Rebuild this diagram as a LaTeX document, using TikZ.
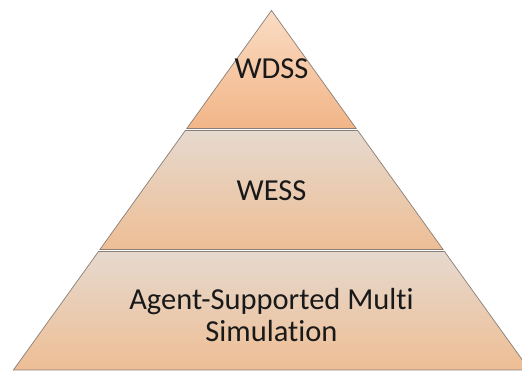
\documentclass[tikz,border=0pt]{standalone}
\usepackage{fontspec}
\setmainfont{Carlito}[Ligatures=NoCommon]
\usepackage{tikz}

\definecolor{peachdark}{HTML}{F2B587}
\definecolor{peachlight}{HTML}{FADCC4}
\definecolor{sandtop}{HTML}{E6D9CE}
\definecolor{sandbot}{HTML}{EEBE95}
\definecolor{edgegray}{HTML}{8A7E76}

\begin{document}
\begin{tikzpicture}[
    x=1pt, y=1pt,
    layer/.style={draw=edgegray, line width=0.7pt, line join=miter},
    top layer/.style={layer, top color=peachlight, bottom color=peachdark},
    lower layer/.style={layer, top color=sandtop, bottom color=sandbot},
    label/.style={font=\fontsize{30.5}{32}\selectfont, align=center, text=black!90}
    ]

\useasboundingbox (0,0) rectangle (522,372);
\clip (0,0) rectangle (522,372);

% pyramid levels
\path [top layer]
    (271.5,361.5) -- (356.2,243.5) -- (186.8,243.5) -- cycle;

\path [lower layer]
    (185.3,241.5) -- (357.7,241.5) -- (443.1,122.5) -- (99.9,122.5) -- cycle;

\path [lower layer]
    (98.5,120.5) -- (444.5,120.5) -- (529.6,2) -- (13.4,2) -- cycle;

% level names
\node[label] (wdss) at (271.5,303) {WDSS};
\node[label] (wess) at (271.5,181) {WESS};
\node[label] (asms) at (271.5,57) {Agent-Supported Multi\\Simulation};

\end{tikzpicture}
\end{document}
